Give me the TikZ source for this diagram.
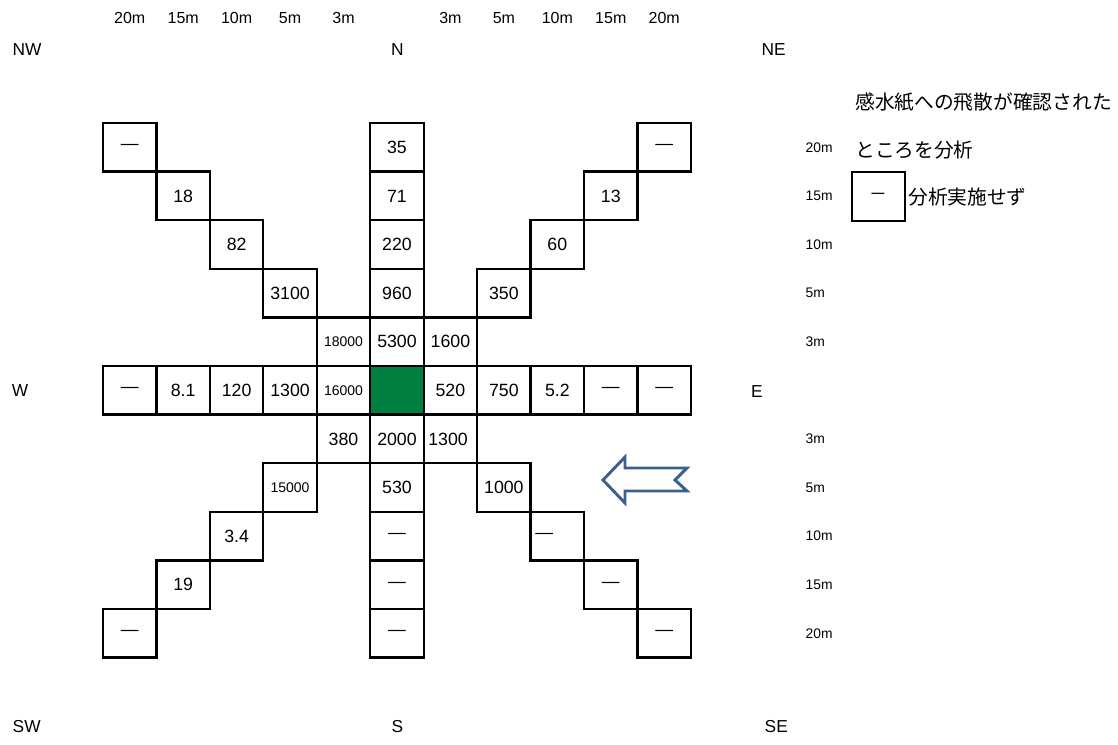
\documentclass[tikz,border=0pt]{standalone}
\usepackage{fontspec}
\setmainfont{Liberation Sans}
\newfontfamily\jpfont{Noto Sans CJK JP}
\definecolor{sitegreen}{RGB}{0,128,64}
\definecolor{windblue}{RGB}{58,96,142}

\begin{document}
\begin{tikzpicture}[
        x=0.75pt, y=-0.75pt,
        cell/.style={draw, line width=1.7pt, minimum width=40.1pt, minimum height=36.45pt, inner sep=0pt, font=\fontsize{13.3}{15}\selectfont},
        smallcell/.style={cell, font=\fontsize{10.5}{12}\selectfont},
        leftcell/.style={cell, text width=33.1pt, inner xsep=3.5pt, align=left},
        toplabel/.style={font=\fontsize{12}{14}\selectfont},
        sidelabel/.style={anchor=west, font=\fontsize{10.4}{12}\selectfont},
        compass/.style={font=\fontsize{13}{15}\selectfont},
        note/.style={anchor=west, inner sep=0pt, font=\jpfont\fontsize{14.8}{17}\selectfont},
        windarrow/.style={draw=windblue, fill=white, line width=2.2pt, line join=miter}
    ]

        \useasboundingbox (0,0) rectangle (1118,744);

        \foreach \c/\t in {0/20m,1/15m,2/10m,3/5m,4/3m,6/3m,7/5m,8/10m,9/15m,10/20m}
            \node[toplabel] (top\c) at ({103+53.45*(\c+0.5)},18) {\t};

        \node[compass, anchor=west] (nw) at (8,50) {NW};
        \node[compass] (n) at (397.5,50) {N};
        \node[compass, anchor=west] (ne) at (757,50) {NE};
        \node[compass] (w) at (20,391) {W};
        \node[compass] (e) at (757,392) {E};
        \node[compass, anchor=west] (sw) at (8,727) {SW};
        \node[compass] (s) at (397.5,727) {S};
        \node[compass, anchor=west] (se) at (760,727) {SE};

        \foreach \c/\r/\t in {0/0/—,5/0/35,10/0/—,
                1/1/18,5/1/71,9/1/13,
                2/2/82,5/2/220,8/2/60,
                3/3/3100,5/3/960,7/3/350,
                5/4/5300,6/4/1600,
                0/5/—,1/5/8.1,2/5/120,3/5/1300,6/5/520,7/5/750,8/5/5.2,9/5/—,10/5/—,
                4/6/380,5/6/2000,
                5/7/530,7/7/1000,
                2/8/3.4,5/8/—,
                1/9/19,5/9/—,9/9/—,
                0/10/—,5/10/—,10/10/—}
            \node[cell] (c\c-\r) at ({103+53.45*(\c+0.5)},{123+48.6*(\r+0.5)}) {\t};

        \foreach \c/\r/\t in {4/4/18000,4/5/16000,3/7/15000}
            \node[smallcell] (c\c-\r) at ({103+53.45*(\c+0.5)},{123+48.6*(\r+0.5)}) {\t};

        \foreach \c/\r/\t in {6/6/1300,8/8/—}
            \node[leftcell] (c\c-\r) at ({103+53.45*(\c+0.5)},{123+48.6*(\r+0.5)}) {\t};

        \node[cell, fill=sitegreen] (c5-5) at ({103+53.45*5.5},{123+48.6*5.5}) {};

        \foreach \r/\t in {0/20m,1/15m,2/10m,3/5m,4/3m,6/3m,7/5m,8/10m,9/15m,10/20m}
            \node[sidelabel] (side\r) at (801,{123+48.6*(\r+0.5)}) {\t};

        \node[note] (note1) at (855,102) {感水紙への飛散が確認された};
        \node[note] (note2) at (855,150) {ところを分析};
        \node[cell] (legendbox) at (878.5,196.5) {\jpfont －};
        \node[note] (note3) at (908,197) {分析実施せず};

        \draw[windarrow] (603,480) -- (625,457) -- (625,468) -- (687,468) -- (675,480)
            -- (687,491) -- (625,491) -- (625,503) -- cycle;

    \end{tikzpicture}
\end{document}
